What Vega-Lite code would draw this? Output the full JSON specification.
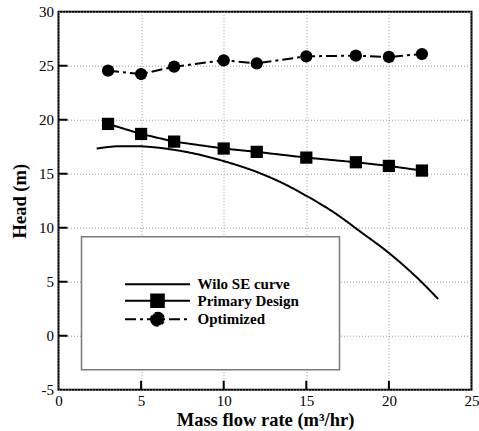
{
  "$schema": "https://vega.github.io/schema/vega-lite/v6.json",
  "width": 413,
  "height": 378,
  "autosize": "none",
  "padding": {"left": 58.5, "top": 11.7, "right": 7.5, "bottom": 41.3},
  "background": "white",
  "config": {
    "view": {"stroke": "black", "strokeWidth": 2},
    "font": "Liberation Serif",
    "axis": {
      "domain": false,
      "ticks": false,
      "grid": true,
      "gridColor": "#9a9a9a",
      "gridDash": [1, 2],
      "gridWidth": 1,
      "labelFont": "Liberation Serif",
      "labelFontSize": 15,
      "labelColor": "black",
      "labelFlush": false,
      "labelOverlap": false,
      "labelExpr": "'' + datum.value",
      "titleFont": "Liberation Serif",
      "titleFontWeight": "bold",
      "titleFontSize": 18.5,
      "titleColor": "black"
    }
  },
  "datasets": {
    "curves": [
      {"series": "Wilo SE curve", "flow": 2.31, "head": 17.33},
      {"series": "Wilo SE curve", "flow": 3.0, "head": 17.47},
      {"series": "Wilo SE curve", "flow": 3.82, "head": 17.55},
      {"series": "Wilo SE curve", "flow": 4.7, "head": 17.55},
      {"series": "Wilo SE curve", "flow": 5.54, "head": 17.48},
      {"series": "Wilo SE curve", "flow": 6.95, "head": 17.22},
      {"series": "Wilo SE curve", "flow": 8.36, "head": 16.82},
      {"series": "Wilo SE curve", "flow": 9.97, "head": 16.18},
      {"series": "Wilo SE curve", "flow": 12.19, "head": 15.05},
      {"series": "Wilo SE curve", "flow": 13.8, "head": 13.95},
      {"series": "Wilo SE curve", "flow": 15.01, "head": 12.95},
      {"series": "Wilo SE curve", "flow": 16.83, "head": 11.25},
      {"series": "Wilo SE curve", "flow": 18.24, "head": 9.67},
      {"series": "Wilo SE curve", "flow": 20.05, "head": 7.6},
      {"series": "Wilo SE curve", "flow": 21.97, "head": 4.98},
      {"series": "Wilo SE curve", "flow": 22.98, "head": 3.4},
      {"series": "Primary Design", "flow": 3, "head": 19.61},
      {"series": "Primary Design", "flow": 5, "head": 18.68},
      {"series": "Primary Design", "flow": 7, "head": 17.97},
      {"series": "Primary Design", "flow": 10, "head": 17.33},
      {"series": "Primary Design", "flow": 12, "head": 17.02},
      {"series": "Primary Design", "flow": 15, "head": 16.49},
      {"series": "Primary Design", "flow": 18, "head": 16.06},
      {"series": "Primary Design", "flow": 20, "head": 15.72},
      {"series": "Primary Design", "flow": 22, "head": 15.29},
      {"series": "Optimized", "flow": 3, "head": 24.54},
      {"series": "Optimized", "flow": 5, "head": 24.23},
      {"series": "Optimized", "flow": 7, "head": 24.91},
      {"series": "Optimized", "flow": 10, "head": 25.5},
      {"series": "Optimized", "flow": 12, "head": 25.22},
      {"series": "Optimized", "flow": 15, "head": 25.87},
      {"series": "Optimized", "flow": 18, "head": 25.93},
      {"series": "Optimized", "flow": 20, "head": 25.81},
      {"series": "Optimized", "flow": 22, "head": 26.08}
    ],
    "xTicks": [{"tick": 5}, {"tick": 10}, {"tick": 15}, {"tick": 20}],
    "yTicks": [{"tick": 0}, {"tick": 5}, {"tick": 10}, {"tick": 15}, {"tick": 20}, {"tick": 25}]
  },
  "layer": [
    {
      "data": {"name": "curves"},
      "transform": [{"filter": "datum.series === 'Wilo SE curve'"}],
      "mark": {"type": "line", "color": "black", "strokeWidth": 2, "interpolate": "monotone"},
      "encoding": {
        "x": {
          "field": "flow",
          "type": "quantitative",
          "title": "Mass flow rate  (m³/hr)",
          "scale": {"domain": [0, 25], "nice": false},
          "axis": {"values": [0, 5, 10, 15, 20, 25], "labelPadding": 4, "titlePadding": 2}
        },
        "y": {
          "field": "head",
          "type": "quantitative",
          "title": "Head (m)",
          "scale": {"domain": [-5, 30], "nice": false, "zero": false},
          "axis": {"values": [-5, 0, 5, 10, 15, 20, 25, 30], "labelPadding": 5, "titlePadding": 9}
        },
        "strokeDash": {
          "field": "series",
          "type": "nominal",
          "scale": {
            "domain": ["Wilo SE curve", "Primary Design", "Optimized"],
            "range": [[1, 0], [1, 0], [11, 4, 3, 4]]
          },
          "legend": {
            "title": null,
            "orient": "none",
            "legendX": 23,
            "legendY": 225,
            "padding": 40,
            "fillColor": "white",
            "strokeColor": "#7a7a7a",
            "symbolSize": 64,
            "symbolType": "M-1,0H15.25",
            "symbolStrokeWidth": 2,
            "symbolStrokeColor": "black",
            "labelFont": "Liberation Serif",
            "labelFontWeight": "bold",
            "labelFontSize": 15,
            "labelColor": "black",
            "labelOffset": 61,
            "rowPadding": -2.5,
            "encode": {
              "legend": {"update": {"strokeWidth": {"value": 1.5}}},
              "symbols": {
                "update": {
                  "shape": {"signal": "datum.value === 'Primary Design' ? 'M-1,0H15.25M5.55,-1.575H8.7V1.575H5.55Z' : datum.value === 'Optimized' ? 'M-1,0H15.25M5.5,0A1.625,1.625 0 1,0 8.75,0A1.625,1.625 0 1,0 5.5,0Z' : 'M-1,0H15.25'"},
                  "fill": {"value": "black"},
                  "fillOpacity": {"value": 1},
                  "stroke": {"value": "black"},
                  "strokeWidth": {"value": 2}
                }
              }
            }
          }
        }
      }
    },
    {
      "data": {"name": "curves"},
      "transform": [{"filter": "datum.series !== 'Wilo SE curve'"}],
      "mark": {"type": "line", "color": "black", "strokeWidth": 2},
      "encoding": {
        "x": {"field": "flow", "type": "quantitative", "title": "Mass flow rate  (m³/hr)"},
        "y": {"field": "head", "type": "quantitative", "title": "Head (m)"},
        "strokeDash": {"field": "series", "type": "nominal", "legend": null}
      }
    },
    {
      "data": {"name": "curves"},
      "transform": [{"filter": "datum.series !== 'Wilo SE curve'"}],
      "mark": {"type": "point", "filled": true, "color": "black", "opacity": 1},
      "encoding": {
        "x": {"field": "flow", "type": "quantitative", "title": "Mass flow rate  (m³/hr)"},
        "y": {"field": "head", "type": "quantitative", "title": "Head (m)"},
        "shape": {
          "field": "series",
          "type": "nominal",
          "scale": {"domain": ["Primary Design", "Optimized"], "range": ["square", "circle"]},
          "legend": null
        },
        "size": {"value": 150}
      }
    },
    {
      "data": {"name": "xTicks"},
      "mark": {"type": "tick", "orient": "vertical", "size": 18, "thickness": 2, "color": "black", "opacity": 1, "clip": true},
      "encoding": {
        "x": {"field": "tick", "type": "quantitative", "title": "Mass flow rate  (m³/hr)"},
        "y": {"datum": -5, "type": "quantitative"}
      }
    },
    {
      "data": {"name": "yTicks"},
      "mark": {"type": "tick", "orient": "horizontal", "size": 18, "thickness": 2, "color": "black", "opacity": 1, "clip": true},
      "encoding": {
        "x": {"datum": 0, "type": "quantitative"},
        "y": {"field": "tick", "type": "quantitative", "title": "Head (m)"}
      }
    }
  ]
}
